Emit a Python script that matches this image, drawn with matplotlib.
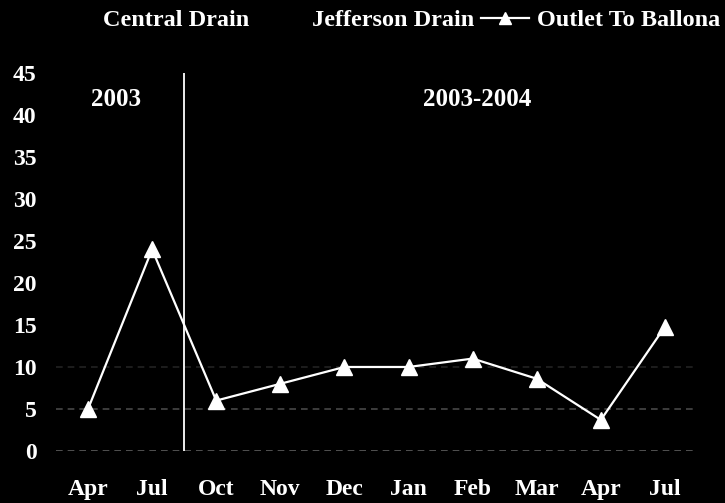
import matplotlib
matplotlib.use("Agg")
import matplotlib.pyplot as plt
from matplotlib.lines import Line2D

# Monthly readings for the outlet to Ballona Creek
months = ["Apr", "Jul", "Oct", "Nov", "Dec", "Jan", "Feb", "Mar", "Apr", "Jul"]
outlet_to_ballona = [5, 24, 6, 8, 10, 10, 11, 8.6, 3.7, 14.8]
series_names = ["Central Drain", "Jefferson Drain", "Outlet To Ballona"]
y_ticks = [0, 5, 10, 15, 20, 25, 30, 35, 40, 45]
period_labels = ["2003", "2003-2004"]
period_split = 1.5  # boundary between the 2003 and 2003-2004 sampling periods

serif = ["Liberation Serif", "DejaVu Serif"]
fg = "white"

fig = plt.figure(figsize=(7.25, 5.03), dpi=100, facecolor="black")
ax = fig.add_axes([0.0772, 0.1034, 0.8842, 0.7515], facecolor="black")

x = list(range(len(months)))

# faint dashed reference lines near the bottom of the scale
for yv, col in [(0, "#5e5e5e"), (5, "#484848"), (10, "#222222")]:
    ax.axhline(yv, color=col, lw=1.2, ls=(0, (4, 3)), zorder=1)

ax.axvline(period_split, color=fg, lw=1.3, zorder=2)

ax.plot(x, outlet_to_ballona, color=fg, lw=1.6, marker="^", ms=11,
        markerfacecolor=fg, markeredgecolor=fg, zorder=3)

ax.set_xlim(-0.5, len(months) - 0.5)
ax.set_ylim(0, 45)
ax.set_xticks(x)
ax.set_xticklabels(months)
ax.set_yticks(y_ticks)
ax.set_yticklabels([str(v) for v in y_ticks])
for lbl in ax.get_xticklabels() + ax.get_yticklabels():
    lbl.set_family(serif)
    lbl.set_fontweight("bold")
    lbl.set_fontsize(17)
    lbl.set_color(fg)
ax.tick_params(axis="both", length=0)
ax.tick_params(axis="x", pad=20)
ax.tick_params(axis="y", pad=14)
for s in ax.spines.values():
    s.set_visible(False)

ax.text(0.44, 41.8, period_labels[0], ha="center", va="center", color=fg,
        family=serif, fontweight="bold", fontsize=18)
ax.text(6.07, 41.8, period_labels[1], ha="center", va="center", color=fg,
        family=serif, fontweight="bold", fontsize=18)

handles = [
    Line2D([], [], color="black", lw=1.6),
    Line2D([], [], color="black", lw=1.6),
    Line2D([], [], color=fg, lw=1.6, marker="^", ms=9,
           markerfacecolor=fg, markeredgecolor=fg),
]
leg = fig.legend(handles, series_names, loc="center right",
                 bbox_to_anchor=(0.994, 0.960), ncol=3, frameon=False,
                 borderpad=0, borderaxespad=0,
                 handlelength=2.0, handletextpad=0.33, columnspacing=0.25,
                 prop={"family": serif, "weight": "bold", "size": 17.5})
for t in leg.get_texts():
    t.set_color(fg)

fig.savefig("out.png", dpi=100, facecolor="black")
